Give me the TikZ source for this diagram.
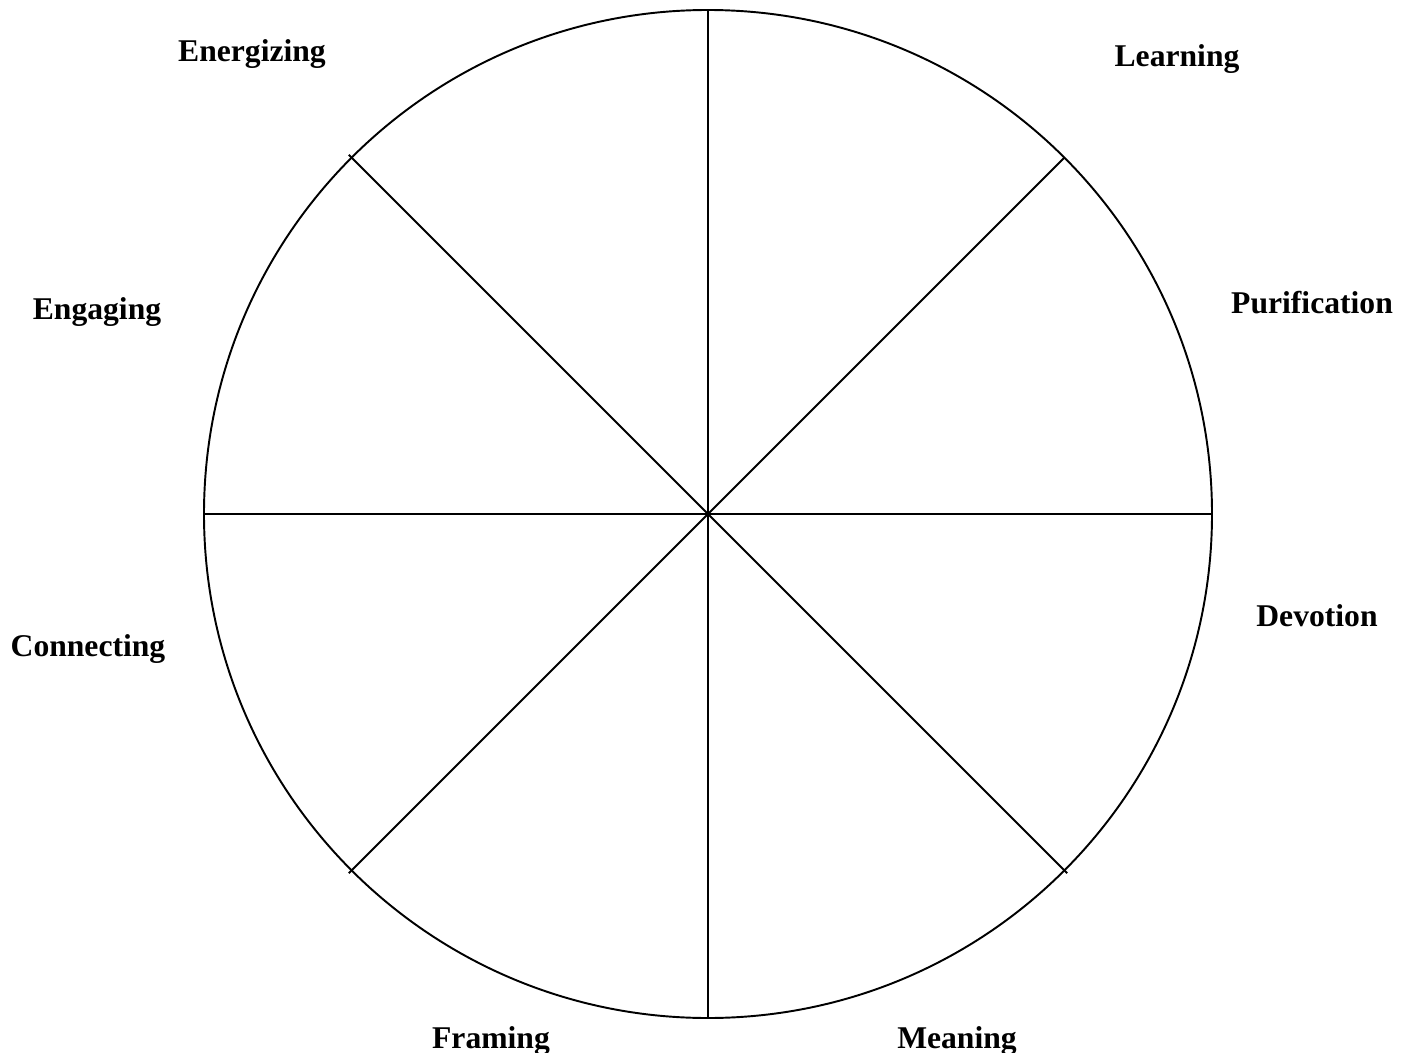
\documentclass[tikz,border=0pt]{standalone}
\usepackage{fontspec}
\setmainfont{Liberation Serif}
\usepackage{tikz}
\usetikzlibrary{calc}

\begin{document}
\begin{tikzpicture}[
  wheel/.style={draw=black, line width=1.1pt},
  spoke/.style={draw=black, line width=1.1pt},
  facet/.style={anchor=base, font=\fontsize{18}{20}\selectfont\bfseries, inner sep=0pt}
]
\useasboundingbox (-14.16,-10.76) rectangle (14.08,10.28);
\coordinate (hub) at (0,0);
\draw[wheel] (hub) circle (10.08);
\draw[spoke] (hub) -- (90:10.08);
\draw[spoke] (hub) -- (270:10.08);
\draw[spoke] (hub) -- (0:10.08);
\draw[spoke] (hub) -- (180:10.08);
\draw[spoke] (hub) -- (45:10.08);
\draw[spoke] (hub) -- (135:10.16);
\draw[spoke] (hub) -- (225:10.16);
\draw[spoke] (hub) -- (315:10.16);

\node[facet] (energizing) at (-9.12,9.04) {Energizing};
\node[facet] (learning) at (9.38,8.94) {Learning};
\node[facet] (engaging) at (-12.22,3.88) {Engaging};
\node[facet] (purification) at (12.08,4.02) {Purification};
\node[facet] (connecting) at (-12.4,-2.84) {Connecting};
\node[facet] (devotion) at (12.18,-2.24) {Devotion};
\node[facet] (framing) at (-4.34,-10.68) {Framing};
\node[facet] (meaning) at (4.98,-10.68) {Meaning};
\end{tikzpicture}
\end{document}
